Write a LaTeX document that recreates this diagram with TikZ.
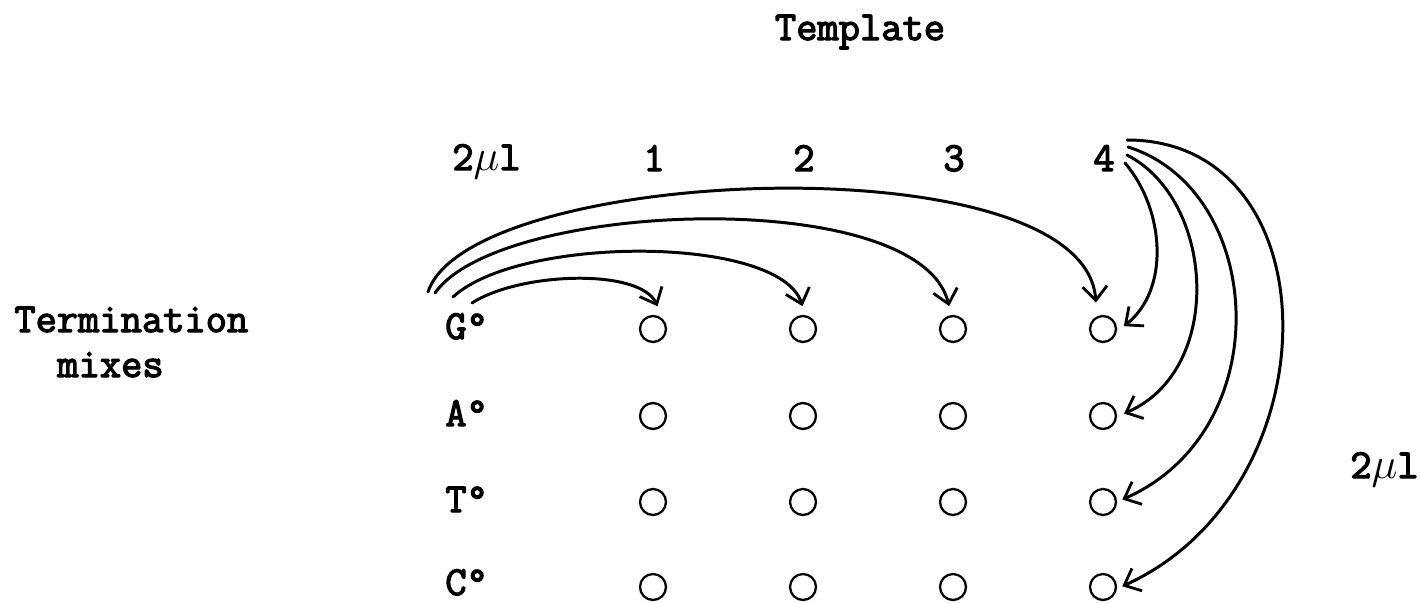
\documentclass[tikz,border=0pt]{standalone}
\usepackage{fontspec}
\setmonofont{Latin Modern Mono}[FakeBold=3]
\usetikzlibrary{arrows.meta}
\begin{document}
\begin{tikzpicture}[x=0.02cm, y=-0.02cm,
  txt/.style={inner sep=0pt, font=\ttfamily\fontsize{23.5}{27}\selectfont},
  well/.style={circle, draw, line width=1.3pt, minimum size=0.52cm, inner sep=0pt},
  pipette/.style={line width=1.7pt, line cap=round,
    -{Straight Barb[length=8pt, width=14pt, line width=1.6pt]}, shorten >=1pt}]
  \useasboundingbox (0,0) rectangle (1420,602);

  % headings and side labels
  \node[txt, anchor=base] (template) at (860,40) {Template};
  \node[txt, anchor=base west] (term) at (14,332) {Termination};
  \node[txt, anchor=base west] (mixes) at (57,377) {mixes};
  \node[txt, anchor=base west] (vtop) at (452,170) {2$\mu$l};
  \node[txt, anchor=base west] (vright) at (1350,478) {2$\mu$l};

  % template numbers
  \foreach \i/\x in {1/654,2/804,3/954,4/1104}
    \node[txt, anchor=base] (t\i) at (\x,171) {\i};

  % termination mixes
  \foreach \r/\b in {G/339, A/426, T/512, C/595}
    \node[txt, anchor=base west] (m\r) at (445,\b) {\r°};

  % wells
  \foreach \r/\y in {G/329, A/416, T/502, C/587}
    \foreach \c/\x in {1/653,2/803,3/953,4/1103}
      \node[well] (w\r\c) at (\x,\y) {};

  % free ends of the pipetting strokes
  \coordinate (g1) at (472,303);
  \coordinate (g2) at (453,297);
  \coordinate (g3) at (435,293);
  \coordinate (g4) at (428,292);
  \coordinate (f1) at (1125,163);
  \coordinate (f2) at (1127,155);
  \coordinate (f3) at (1128,147);
  \coordinate (f4) at (1127,140);

  % G mix into every template
  \draw[pipette] (g1) .. controls (520,272) and (640,268) .. ([xshift=3pt,yshift=4pt]wG1.north);
  \draw[pipette] (g2) .. controls (520,235) and (780,235) .. ([yshift=4pt]wG2.north);
  \draw[pipette] (g3) .. controls (500,200) and (920,185) .. ([xshift=-2pt,yshift=4pt]wG3.north);
  \draw[pipette] (g4) .. controls (470,165) and (1085,140) .. ([xshift=-4pt,yshift=6pt]wG4.north);

  % template 4 into every mix
  \draw[pipette] (f1) .. controls (1165,210) and (1170,290) .. ([xshift=3pt,yshift=1pt]wG4.east);
  \draw[pipette] (f2) .. controls (1215,200) and (1225,370) .. ([xshift=3pt,yshift=1pt]wA4.east);
  \draw[pipette] (f3) .. controls (1265,190) and (1280,430) .. ([xshift=2pt,yshift=1pt]wT4.east);
  \draw[pipette] (f4) .. controls (1335,140) and (1335,490) .. ([xshift=2pt]wC4.east);
\end{tikzpicture}
\end{document}
